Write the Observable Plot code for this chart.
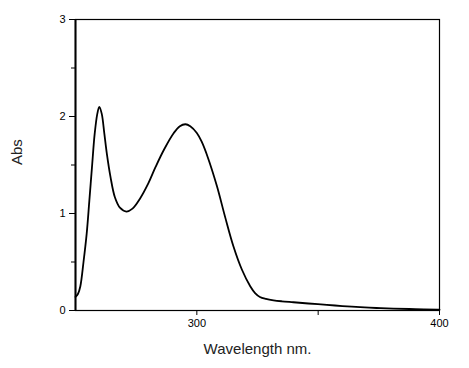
<!DOCTYPE html>
<html><head><meta charset="utf-8">
<script src="https://cdn.jsdelivr.net/npm/d3@7"></script>
<script src="https://cdn.jsdelivr.net/npm/@observablehq/plot@0.6"></script>
<style>body{margin:0;background:#fff}</style>
</head><body><div id="chart"></div>
<script>
const wavelength = [250, 251, 252, 253.3, 254.6, 255.7, 256.8, 257.9, 259, 259.8, 260.8, 261.9, 262.9, 264.4, 266.2, 268.3, 271, 273.5, 276.5, 280, 283, 286.5, 290.5, 293, 295.3, 297.3, 300, 302, 304.5, 308.3, 311.7, 315.1, 318.6, 322, 324, 326, 328.5, 331.6, 335, 339.8, 346, 353.6, 360, 367.3, 374, 381, 390, 399.4, 400];
const absorbance = [0.14, 0.17, 0.25, 0.5, 0.79, 1.13, 1.48, 1.82, 2.03, 2.10, 2.03, 1.82, 1.62, 1.38, 1.17, 1.06, 1.02, 1.05, 1.15, 1.31, 1.48, 1.66, 1.83, 1.90, 1.92, 1.90, 1.83, 1.74, 1.58, 1.28, 0.96, 0.66, 0.42, 0.25, 0.18, 0.14, 0.12, 0.105, 0.095, 0.085, 0.072, 0.058, 0.046, 0.034, 0.026, 0.02, 0.014, 0.01, 0.01];
const xTicks = [300, 400];
const xMinor = [350];
const yTicks = [0, 1, 2, 3];
const yMinor = [0.5, 1.5, 2.5];

const data = wavelength.map((w, i) => ({w, a: absorbance[i]}));
const font = "'Liberation Sans', Arial, sans-serif";

const chart = Plot.plot({
  width: 469, height: 368,
  marginLeft: 75, marginRight: 30, marginTop: 19, marginBottom: 58,
  style: {fontFamily: font, fontSize: "11px", color: "#000", background: "#fff"},
  x: {domain: [250, 400], label: null},
  y: {domain: [0, 3], label: null},
  marks: [
    Plot.axisX({ticks: xTicks, tickSize: 5, tickPadding: 4, fontSize: 11, label: null, tickFormat: d => String(d)}),
    Plot.axisX({ticks: xMinor, tickSize: 5, tickFormat: () => "", label: null}),
    Plot.axisY({ticks: yTicks, tickSize: 6, tickPadding: 4, fontSize: 11, label: null, tickFormat: d => String(d)}),
    Plot.axisY({ticks: yMinor, tickSize: 4, tickFormat: () => "", label: null}),
    Plot.frame({stroke: "#000", strokeWidth: 1.2}),
    Plot.ruleX([250], {stroke: "#000", strokeWidth: 2}),
    Plot.line(data, {x: "w", y: "a", curve: "catmull-rom", stroke: "#000", strokeWidth: 1.8}),
    Plot.text(["Wavelength nm."], {frameAnchor: "bottom", dy: 43, fontSize: 15, fill: "#222"}),
    Plot.text(["Abs"], {frameAnchor: "left", dx: -58, rotate: -90, fontSize: 15, fill: "#222"})
  ]
});
document.getElementById("chart").appendChild(chart);
</script></body></html>
